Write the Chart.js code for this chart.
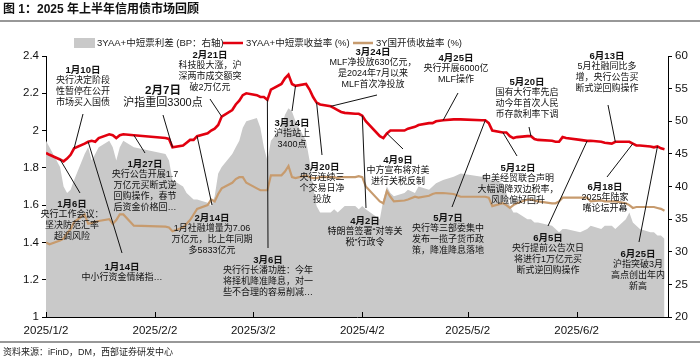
<!DOCTYPE html>
<html>
<head>
<meta charset="utf-8">
<script src="https://cdn.jsdelivr.net/npm/chart.js@4/dist/chart.umd.min.js"></script>
<style>
  html, body { margin: 0; padding: 0; background: #fff; }
  #wrap { position: relative; width: 700px; height: 362px; }
</style>
</head>
<body>
<div id="wrap"><canvas id="chart" width="700" height="362"></canvas></div>
<script>
// Trading dates (2025, MM-DD)
const dates = [
  '01-02','01-03','01-06','01-07','01-08','01-09','01-10','01-13','01-14','01-15','01-16','01-17','01-20','01-21','01-22','01-23','01-24','01-27',
  '02-05','02-06','02-07','02-10','02-11','02-12','02-13','02-14','02-17','02-18','02-19','02-20','02-21','02-24','02-25','02-26','02-27','02-28',
  '03-03','03-04','03-05','03-06','03-07','03-10','03-11','03-12','03-13','03-14','03-17','03-18','03-19','03-20','03-21','03-24','03-25','03-26','03-27','03-28','03-31',
  '04-01','04-02','04-03','04-07','04-08','04-09','04-10','04-11','04-14','04-15','04-17','04-18','04-21','04-22','04-23','04-25','04-28','04-30',
  '05-06','05-07','05-08','05-09','05-12','05-13','05-14','05-15','05-16','05-19','05-20','05-21','05-22','05-26','05-27','05-28','05-29','05-30',
  '06-03','06-05','06-06','06-09','06-10','06-12','06-13','06-16','06-17','06-18','06-19','06-20','06-23','06-24','06-25','06-26','06-27'
];

// 3YAA+中短票收益率 (%)
const aaYield = [
  1.88,1.87,1.845,1.835,1.85,1.87,1.905,1.93,1.94,1.945,1.94,1.96,1.98,1.975,1.96,1.975,1.98,1.975,
  1.96,1.955,1.91,1.92,1.935,1.95,1.95,1.97,1.985,2.00,2.01,2.03,2.075,2.11,2.14,2.16,2.19,2.20,
  2.19,2.18,2.18,2.165,2.22,2.25,2.28,2.30,2.25,2.24,2.25,2.22,2.18,2.15,2.14,2.13,2.12,2.11,2.10,2.095,2.09,
  2.09,2.08,2.05,1.97,1.96,1.985,2.00,2.00,2.00,2.01,2.02,2.03,2.04,2.04,2.05,2.055,2.06,2.06,
  2.055,2.055,2.04,2.00,1.99,1.99,1.97,1.96,1.965,1.97,1.97,1.955,1.95,1.945,1.94,1.94,1.965,1.96,
  1.95,1.945,1.945,1.94,1.935,1.93,1.94,1.94,1.94,1.93,1.92,1.92,1.915,1.91,1.915,1.905,1.90
];

// 3Y国开债收益率 (%)
const cdbYield = [
  1.40,1.39,1.41,1.42,1.45,1.47,1.51,1.55,1.50,1.505,1.51,1.515,1.525,1.50,1.52,1.55,1.55,1.49,
  1.485,1.48,1.46,1.48,1.50,1.52,1.55,1.58,1.60,1.63,1.62,1.66,1.69,1.72,1.74,1.75,1.75,1.72,
  1.69,1.68,1.68,1.68,1.76,1.76,1.78,1.81,1.75,1.745,1.76,1.75,1.745,1.745,1.75,1.75,1.75,1.745,1.75,1.75,1.75,
  1.755,1.75,1.70,1.62,1.61,1.675,1.645,1.62,1.625,1.63,1.645,1.64,1.65,1.66,1.665,1.665,1.66,1.645,
  1.645,1.645,1.64,1.595,1.61,1.60,1.585,1.60,1.61,1.63,1.63,1.625,1.62,1.61,1.61,1.62,1.64,1.64,
  1.64,1.64,1.62,1.625,1.62,1.62,1.62,1.61,1.60,1.585,1.59,1.59,1.59,1.59,1.585,1.58,1.57
];

// 3YAA+中短票利差 (BP, 右轴)
const aaSpread = [
  47,46,43,40,39,39.5,41,45,46,44,45,46,47,46,44,46,47,46,
  45,44,41,40,39,38.5,38,38,37.5,37,38.5,42,43,45,46,47,49,50,
  50.5,49,46,44,47,49,51,52,51.5,50,47,44,40,37,36,36,36.5,36,36.5,37,37,
  36.5,37,36.5,35,38,40,39,38.5,39,39.5,39,40,39.5,40,40.5,41,41.5,42,
  41.5,42,41,41,40.5,39,37,36,36,35,35,34.5,34.5,34,33.5,33,33.5,33.5,
  33,33.5,34,33.5,34,34,33.5,35,36,34.5,34,33.5,33,33,32.5,32.5,32
];

const xTickDates = ['01-02','02-02','03-02','04-02','05-02','06-02'];
const xTickLabels = ['2025/1/2','2025/2/2','2025/3/2','2025/4/2','2025/5/2','2025/6/2'];
const xEndDate = '06-28';

// Event notes: date on the AA yield line, label layout (px), text lines
const notes = [
  { d: '01-10', x: 83,  y: 70,  ex: 83,  ey: 114, t: ['1月10日','央行决定阶段','性暂停在公开','市场买入国债'] },
  { d: '02-07', x: 163, y: 91,  ex: 163, ey: 115, t: ['2月7日','沪指重回3300点'], big: true },
  { d: '02-21', x: 210, y: 55,  ex: 210, ey: 99,  t: ['2月21日','科技股大涨，沪','深两市成交额突','破2万亿元'] },
  { d: '03-24', x: 373, y: 52,  ex: 377, ey: 95,  t: ['3月24日','MLF净投放630亿元，','是2024年7月以来','MLF首次净投放'] },
  { d: '04-25', x: 456, y: 58,  ex: 458, ey: 93,  t: ['4月25日','央行开展6000亿','MLF操作'] },
  { d: '06-13', x: 607, y: 56,  ex: 608, ey: 105, t: ['6月13日','5月社融同比多','增，央行公告买','断式逆回购操作'] },
  { d: '05-20', x: 527, y: 82,  ex: 529, ey: 127, t: ['5月20日','国有大行率先启','动今年首次人民','币存款利率下调'] },
  { d: '03-14', x: 292, y: 123, ex: 292, ey: 111, t: ['3月14日','沪指站上','3400点'] },
  { d: '04-09', x: 398, y: 160, ex: 403, ey: 149, t: ['4月9日','中方宣布将对美','进行关税反制'] },
  { d: '01-27', x: 145, y: 164, ex: 145, ey: 153, t: ['1月27日','央行公告开展1.7','万亿元买断式逆','回购操作，春节','后资金价格回…'] },
  { d: '01-06', x: 72,  y: 204, ex: 80,  ey: 193, t: ['1月6日','央行工作会议：','坚决防范汇率','超调风险'] },
  { d: '01-14', x: 122, y: 267, ex: 122, ey: 253, t: ['1月14日','中小行资金情绪指…'] },
  { d: '02-14', x: 212, y: 218, ex: 212, ey: 205, t: ['2月14日','1月社融增量为7.06','万亿元，比上年同期','多5833亿元'] },
  { d: '03-06', x: 268, y: 260, ex: 268, ey: 248, t: ['3月6日','央行行长潘功胜：今年','将择机降准降息，对一','些不合理的容易削减…'] },
  { d: '03-20', x: 322, y: 167, ex: 322, ey: 155, t: ['3月20日','央行连续三','个交易日净','投放'] },
  { d: '04-02', x: 365, y: 221, ex: 366, ey: 208, t: ['4月2日','特朗普签署“对等关','税”行政令'] },
  { d: '05-07', x: 448, y: 218, ex: 452, ey: 207, t: ['5月7日','央行等三部委集中','发布一揽子货币政','策，降准降息落地'] },
  { d: '05-12', x: 518, y: 168, ex: 517, ey: 156, t: ['5月12日','中美经贸联合声明','大幅调降双边税率，','风险偏好回升'] },
  { d: '06-05', x: 548, y: 238, ex: 548, ey: 226, t: ['6月5日','央行提前公告次日','将进行1万亿元买','断式逆回购操作'] },
  { d: '06-18', x: 605, y: 187, ex: 607, ey: 177, t: ['6月18日','2025年陆家','嘴论坛开幕'] },
  { d: '06-25', x: 638, y: 254, ex: 639, ey: 242, t: ['6月25日','沪指突破3月','高点创出年内','新高'] }
];

const FONT = '"Liberation Sans", Arial, "Noto Sans CJK SC", sans-serif';
const RED = '#E2000F';
const TAN = '#C79B6E';
const GRAY = '#C9C9C9';

function dayIndex(s) {
  const [m, d] = s.split('-').map(Number);
  return (Date.UTC(2025, m - 1, d) - Date.UTC(2025, 0, 2)) / 864e5;
}

function toPoints(values) {
  return dates.map((d, i) => ({ x: dayIndex(d), y: values[i] }));
}

const decorPlugin = {
  id: 'decor',
  beforeDraw(chart) {
    const ctx = chart.ctx;
    ctx.save();
    ctx.fillStyle = '#fff';
    ctx.fillRect(0, 0, chart.width, chart.height);

    // title
    ctx.fillStyle = '#111';
    ctx.font = 'bold 12px ' + FONT;
    ctx.textBaseline = 'middle';
    ctx.fillText('图 1：2025 年上半年信用债市场回顾', 3, 10);

    // separator lines
    ctx.strokeStyle = '#777';
    ctx.lineWidth = 1.5;
    ctx.beginPath();
    ctx.moveTo(0, 21); ctx.lineTo(700, 21);
    ctx.moveTo(0, 342); ctx.lineTo(700, 342);
    ctx.stroke();

    // legend
    ctx.font = '9.5px ' + FONT;
    ctx.fillStyle = GRAY;
    ctx.fillRect(74, 38, 21, 10);
    ctx.fillStyle = '#222';
    ctx.fillText('3YAA+中短票利差 (BP：右轴)', 97, 43);
    ctx.lineWidth = 2.5;
    ctx.strokeStyle = RED;
    ctx.beginPath(); ctx.moveTo(223, 43); ctx.lineTo(243, 43); ctx.stroke();
    ctx.fillText('3YAA+中短票收益率 (%)', 246, 43);
    ctx.strokeStyle = TAN;
    ctx.beginPath(); ctx.moveTo(353, 43); ctx.lineTo(373, 43); ctx.stroke();
    ctx.fillText('3Y国开债收益率 (%)', 376, 43);

    // source
    ctx.font = '9px ' + FONT;
    ctx.fillText('资料来源：iFinD，DM，西部证券研发中心', 3, 353);
    ctx.restore();
  },
  afterDatasetsDraw(chart) {
    const ctx = chart.ctx;
    const xs = chart.scales.x;
    const ys = chart.scales.y;
    ctx.save();

    // x ticks pointing up into the plot
    ctx.strokeStyle = '#000';
    ctx.lineWidth = 1;
    ctx.beginPath();
    xs.ticks.forEach(t => {
      const px = Math.round(xs.getPixelForValue(t.value)) + 0.5;
      ctx.moveTo(px, chart.chartArea.bottom);
      ctx.lineTo(px, chart.chartArea.bottom - 5);
    });
    ctx.stroke();

    // event notes
    notes.forEach(n => {
      const i = dates.indexOf(n.d);
      const tx = xs.getPixelForValue(dayIndex(n.d));
      const ty = ys.getPixelForValue(aaYield[i]);
      ctx.strokeStyle = '#111';
      ctx.lineWidth = 1;
      ctx.beginPath();
      ctx.moveTo(tx, ty);
      ctx.lineTo(n.ex, n.ey);
      ctx.stroke();

      ctx.fillStyle = '#111';
      ctx.textAlign = 'center';
      ctx.textBaseline = 'middle';
      const lh = n.big ? 12 : 11;
      n.t.forEach((line, k) => {
        if (k === 0) ctx.font = 'bold ' + (n.big ? 11.5 : 9.5) + 'px ' + FONT;
        else ctx.font = (n.big ? 11 : 9) + 'px ' + FONT;
        ctx.fillText(line, n.x, n.y + k * lh);
      });
    });
    ctx.restore();
  }
};

new Chart(document.getElementById('chart'), {
  type: 'line',
  data: {
    datasets: [
      {
        label: '3YAA+中短票收益率（%）',
        data: toPoints(aaYield),
        yAxisID: 'y',
        borderColor: RED,
        borderWidth: 2.6,
        pointRadius: 0,
        tension: 0,
        fill: false,
        order: 0
      },
      {
        label: '3Y国开债收益率（%）',
        data: toPoints(cdbYield),
        yAxisID: 'y',
        borderColor: TAN,
        borderWidth: 2.2,
        pointRadius: 0,
        tension: 0,
        fill: false,
        order: 1
      },
      {
        label: '3YAA+中短票利差（BP：右轴）',
        data: toPoints(aaSpread),
        yAxisID: 'y1',
        borderWidth: 0,
        borderColor: GRAY,
        backgroundColor: GRAY,
        pointRadius: 0,
        tension: 0,
        fill: 'start',
        order: 2
      }
    ]
  },
  options: {
    responsive: false,
    animation: false,
    devicePixelRatio: 1,
    layout: { padding: { top: 56, left: 0, right: 0, bottom: 0 } },
    plugins: {
      legend: { display: false },
      tooltip: { enabled: false }
    },
    scales: {
      x: {
        type: 'linear',
        min: 0,
        max: dayIndex(xEndDate),
        afterBuildTicks: scale => {
          scale.ticks = xTickDates.map(d => ({ value: dayIndex(d) }));
        },
        afterFit: scale => { scale.height = 45; },
        ticks: {
          autoSkip: false,
          maxRotation: 0,
          padding: 7,
          color: '#111',
          font: { family: FONT, size: 11.5 },
          callback: (v) => xTickLabels[xTickDates.findIndex(d => dayIndex(d) === v)]
        },
        grid: { display: true, drawOnChartArea: false, drawTicks: false },
        border: { display: true, color: '#000', width: 1 }
      },
      y: {
        position: 'left',
        min: 1,
        max: 2.4,
        afterFit: scale => { scale.width = 46; },
        ticks: {
          stepSize: 0.2,
          padding: 3,
          color: '#111',
          font: { family: FONT, size: 11.5 },
          callback: v => String(+v.toFixed(1))
        },
        grid: { drawOnChartArea: false, drawTicks: true, tickLength: 4, color: '#000' },
        border: { display: true, color: '#000', width: 1 }
      },
      y1: {
        position: 'right',
        min: 20,
        max: 60,
        afterFit: scale => { scale.width = 32; },
        ticks: {
          stepSize: 5,
          padding: 3,
          color: '#111',
          font: { family: FONT, size: 11.5 }
        },
        grid: { drawOnChartArea: false, drawTicks: true, tickLength: 4, color: '#000' },
        border: { display: true, color: '#000', width: 1 }
      }
    }
  },
  plugins: [decorPlugin]
});
</script>
</body>
</html>
